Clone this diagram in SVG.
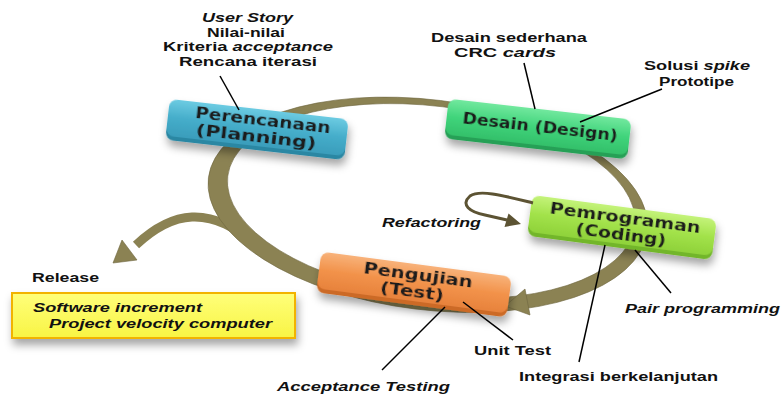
<svg xmlns="http://www.w3.org/2000/svg" width="782" height="396" viewBox="0 0 782 396">
<style>
.a{font-family:"Liberation Sans",Arial,sans-serif;font-weight:bold;font-size:13.5px;fill:#111}
.i{font-style:italic}
.b{font-family:"DejaVu Sans",Verdana,sans-serif;font-weight:bold;font-size:16px;fill:#1a1a1a;text-anchor:middle}
.ln{stroke:#000;stroke-width:1.5;fill:none}
.ring{fill:#8b8253;stroke:#6f6740;stroke-width:0.6}
</style>
<defs>
<filter id="sh" x="-20%" y="-40%" width="140%" height="200%">
<feDropShadow dx="2" dy="6" stdDeviation="4" flood-color="#000" flood-opacity="0.35"/>
</filter>
<linearGradient id="gB" x1="0" y1="0" x2="0" y2="1"><stop offset="0" stop-color="#6ccbe2"/><stop offset="0.5" stop-color="#45adca"/><stop offset="1" stop-color="#3a9dbb"/></linearGradient>
<linearGradient id="gG" x1="0" y1="0" x2="0" y2="1"><stop offset="0" stop-color="#72e89e"/><stop offset="0.5" stop-color="#40d47b"/><stop offset="1" stop-color="#33c06a"/></linearGradient>
<linearGradient id="gL" x1="0" y1="0" x2="0" y2="1"><stop offset="0" stop-color="#c4f37a"/><stop offset="0.5" stop-color="#a2e24a"/><stop offset="1" stop-color="#8fd23a"/></linearGradient>
<linearGradient id="gO" x1="0" y1="0" x2="0" y2="1"><stop offset="0" stop-color="#f8b27a"/><stop offset="0.5" stop-color="#f2924a"/><stop offset="1" stop-color="#e7823c"/></linearGradient>
<linearGradient id="gY" x1="0" y1="0" x2="0" y2="1"><stop offset="0" stop-color="#ffff7a"/><stop offset="1" stop-color="#f8f444"/></linearGradient>
</defs>
<rect width="782" height="396" fill="#fff"/>

<g id="connectors">
<path d="M252,244 C238,228 215,216 192,217 C170,218 152,230 136,245" fill="none" stroke="#8b8253" stroke-width="9"/>
<polygon class="ring" points="113,263 122,240 137,260"/>
<path class="ring" fill-rule="evenodd" transform="rotate(7 430 203)" d="M207,205 a221,105 0 1 0 442,0 a221,105 0 1 0 -442,0 Z M226,201 a205,95 0 1 0 410,0 a205,95 0 1 0 -410,0 Z"/>
<polygon class="ring" points="505,306 525,289 530,315"/>
</g>

<g id="release">
<rect x="12" y="293" width="283" height="45" fill="url(#gY)" stroke="#f2b300" stroke-width="2" filter="url(#sh)"/>
<text class="a" x="32" y="282" textLength="67" lengthAdjust="spacingAndGlyphs">Release</text>
<text class="a i" x="33" y="312" textLength="169" lengthAdjust="spacingAndGlyphs">Software increment</text>
<text class="a i" x="49" y="328" textLength="223" lengthAdjust="spacingAndGlyphs">Project velocity computer</text>
</g>

<g id="planning" transform="translate(257,129) rotate(6.5)" filter="url(#sh)">
<rect x="-90" y="-17" width="180" height="38" rx="8" fill="#2c87a3"/>
<rect x="-90" y="-20" width="180" height="37" rx="8" fill="url(#gB)"/>
<text class="b" x="5" y="-4" textLength="136" lengthAdjust="spacingAndGlyphs">Perencanaan</text>
<text class="b" x="0" y="13" textLength="121" lengthAdjust="spacingAndGlyphs">(Planning)</text>
</g>

<g id="design" transform="translate(538,128) rotate(6.5)" filter="url(#sh)">
<rect x="-92" y="-16" width="184" height="37" rx="8" fill="#27a056"/>
<rect x="-92" y="-19" width="184" height="36" rx="8" fill="url(#gG)"/>
<text class="b" x="2" y="4" textLength="156" lengthAdjust="spacingAndGlyphs">Desain (Design)</text>
</g>

<g id="coding" transform="translate(622,227) rotate(7.5)" filter="url(#sh)">
<rect x="-93" y="-17" width="186" height="38" rx="8" fill="#72b62a"/>
<rect x="-93" y="-20" width="186" height="37" rx="8" fill="url(#gL)"/>
<text class="b" x="2" y="-4" textLength="152" lengthAdjust="spacingAndGlyphs">Pemrograman</text>
<text class="b" x="0" y="13" textLength="91" lengthAdjust="spacingAndGlyphs">(Coding)</text>
</g>

<g id="test" transform="translate(414,284) rotate(7.5)" filter="url(#sh)">
<rect x="-96" y="-17" width="192" height="38" rx="8" fill="#cc6a25"/>
<rect x="-96" y="-20" width="192" height="37" rx="8" fill="url(#gO)"/>
<text class="b" x="3" y="-4" textLength="110" lengthAdjust="spacingAndGlyphs">Pengujian</text>
<text class="b" x="-1" y="13" textLength="64" lengthAdjust="spacingAndGlyphs">(Test)</text>
</g>

<g id="refactoring">
<path d="M533,203 C505,196 480,189 470,196 C460,205 470,212 485,215 L507,220" fill="none" stroke="#5c5333" stroke-width="3"/>
<polygon points="521,224 504.5,227 508.5,213.5" fill="#5c5333"/>
<text class="a i" x="382" y="227" textLength="99" lengthAdjust="spacingAndGlyphs">Refactoring</text>
</g>

<g id="annotation-lines">
<line class="ln" x1="220" y1="76" x2="239" y2="110"/>
<line class="ln" x1="524" y1="63" x2="535" y2="109"/>
<line class="ln" x1="662" y1="89" x2="580" y2="122"/>
<line class="ln" x1="635" y1="250" x2="671" y2="293"/>
<line class="ln" x1="605" y1="245" x2="579" y2="362"/>
<line class="ln" x1="463" y1="302" x2="513" y2="340"/>
<line class="ln" x1="445" y1="307" x2="382" y2="370"/>
</g>

<g id="planning-notes">
<text class="a i" x="202" y="22" textLength="91" lengthAdjust="spacingAndGlyphs">User Story</text>
<text class="a" x="207" y="37" textLength="78" lengthAdjust="spacingAndGlyphs">Nilai-nilai</text>
<text class="a" x="163" y="51" textLength="170" lengthAdjust="spacingAndGlyphs">Kriteria <tspan class="i">acceptance</tspan></text>
<text class="a" x="179" y="66" textLength="138" lengthAdjust="spacingAndGlyphs">Rencana iterasi</text>
</g>

<g id="design-notes">
<text class="a" x="431" y="42" textLength="156" lengthAdjust="spacingAndGlyphs">Desain sederhana</text>
<text class="a" x="454" y="57" textLength="102" lengthAdjust="spacingAndGlyphs">CRC <tspan class="i">cards</tspan></text>
<text class="a" x="644" y="70" textLength="106" lengthAdjust="spacingAndGlyphs">Solusi <tspan class="i">spike</tspan></text>
<text class="a" x="659" y="86" textLength="75" lengthAdjust="spacingAndGlyphs">Prototipe</text>
</g>

<g id="coding-notes">
<text class="a i" x="625" y="313" textLength="155" lengthAdjust="spacingAndGlyphs">Pair programming</text>
<text class="a" x="519" y="381" textLength="199" lengthAdjust="spacingAndGlyphs">Integrasi berkelanjutan</text>
</g>

<g id="test-notes">
<text class="a" x="474" y="355" textLength="77" lengthAdjust="spacingAndGlyphs">Unit Test</text>
<text class="a i" x="277" y="391" textLength="173" lengthAdjust="spacingAndGlyphs">Acceptance Testing</text>
</g>
</svg>
